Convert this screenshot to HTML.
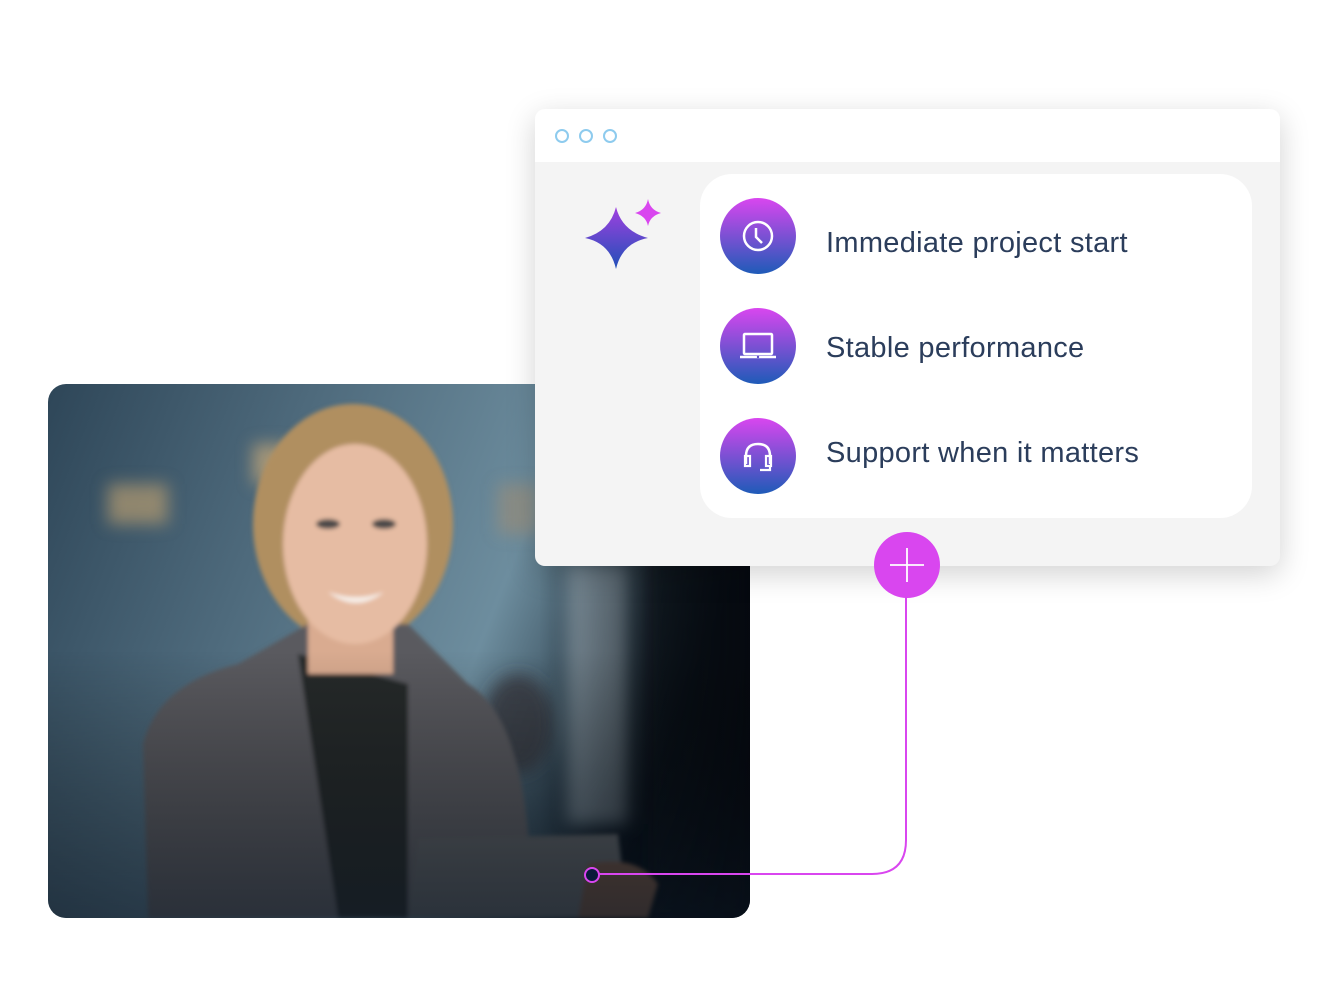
<!DOCTYPE html>
<html><head><meta charset="utf-8"><style>
html,body{margin:0;padding:0;background:#fff;}
body{width:1344px;height:1008px;position:relative;overflow:hidden;font-family:"Liberation Sans",sans-serif;}
.abs{position:absolute;}
.win{left:535px;top:109px;width:745px;height:457px;background:#f4f4f4;border-radius:10px;box-shadow:0 8px 30px rgba(0,0,0,0.18);overflow:hidden;}
.hdr{position:absolute;left:0;top:0;width:100%;height:53px;background:#fff;}
.dot{position:absolute;top:20px;width:10px;height:10px;border:2px solid #8ecbee;border-radius:50%;}
.card{left:700px;top:174px;width:552px;height:344px;background:#fff;border-radius:32px;}
.ic{width:76px;height:76px;border-radius:50%;background:linear-gradient(180deg,#d946ef,#1e5bb8);left:720px;}
.lbl{left:826px;font-size:29px;color:#2b3d5b;letter-spacing:0.3px;}
</style></head><body>
<svg class="abs" style="left:48px;top:384px" width="702" height="534" viewBox="0 0 702 534">
<defs>
<clipPath id="c"><rect width="702" height="534" rx="18"/></clipPath>
<linearGradient id="bg" x1="0" y1="0" x2="1" y2="0.3"><stop offset="0" stop-color="#2e4658"/><stop offset="0.35" stop-color="#4e6a7c"/><stop offset="0.7" stop-color="#6d8d9e"/><stop offset="1" stop-color="#0a1520"/></linearGradient>
<linearGradient id="bot" x1="0" y1="0" x2="0" y2="1"><stop offset="0.5" stop-color="#000" stop-opacity="0"/><stop offset="1" stop-color="#0a1420" stop-opacity="0.6"/></linearGradient>
<filter id="b8"><feGaussianBlur stdDeviation="8"/></filter>
<filter id="b2"><feGaussianBlur stdDeviation="2"/></filter>
<linearGradient id="rt" x1="0" y1="0" x2="1" y2="0"><stop offset="0.7" stop-color="#000" stop-opacity="0"/><stop offset="1" stop-color="#05080e" stop-opacity="0.9"/></linearGradient>
</defs>
<g clip-path="url(#c)">
<rect width="702" height="534" fill="url(#bg)"/>
<g filter="url(#b8)">
<rect x="60" y="100" width="60" height="40" fill="#b49a70" opacity="0.7"/>
<rect x="205" y="60" width="40" height="40" fill="#c8a878" opacity="0.7"/>
<rect x="450" y="100" width="40" height="50" fill="#a89070" opacity="0.5"/>
<rect x="520" y="180" width="60" height="260" fill="#b8c8d4" opacity="0.55"/>
<ellipse cx="470" cy="340" rx="35" ry="50" fill="#3a3a40" opacity="0.8"/>
<rect x="600" y="0" width="102" height="534" fill="#0e1a26" opacity="0.6"/>
</g>
<rect width="702" height="534" fill="url(#rt)"/>
<g filter="url(#b2)">
<ellipse cx="305" cy="140" rx="100" ry="120" fill="#b08f60"/>
<path d="M100 534 L95 360 Q110 300 190 280 L260 240 L360 240 L420 300 Q470 330 480 450 L490 534 Z" fill="#5a5a5e"/>
<path d="M250 270 L290 534 L360 534 L360 300 Z" fill="#26292c"/>
<rect x="260" y="180" width="85" height="110" fill="#d9ab90"/>
<ellipse cx="307" cy="160" rx="72" ry="100" fill="#e6bca3"/>
<ellipse cx="280" cy="140" rx="12" ry="5" fill="#4c4a48"/>
<ellipse cx="336" cy="140" rx="12" ry="5" fill="#4c4a48"/>
<path d="M280 208 Q308 230 336 208 Q308 218 280 208Z" fill="#f6eee8"/>
<path d="M370 455 L570 450 L580 534 L360 534 Z" fill="#5c5e62"/>
<path d="M540 480 Q590 470 610 500 L600 534 L530 534 Z" fill="#6b5040"/>
</g>
<rect width="702" height="534" fill="url(#bot)"/>
</g>
</svg>
<div class="abs win"><div class="hdr"><div class="dot" style="left:20px"></div><div class="dot" style="left:44px"></div><div class="dot" style="left:68px"></div></div></div>
<svg class="abs" style="left:580px;top:195px" width="90" height="80" viewBox="0 0 90 80">
<defs><linearGradient id="sg" x1="0" y1="0" x2="0" y2="1"><stop offset="0" stop-color="#a040e0"/><stop offset="1" stop-color="#2050b8"/></linearGradient></defs>
<path d="M36 12 Q42 36 68 43 Q42 48 36 74 Q30 48 5 43 Q30 36 36 12Z" fill="url(#sg)"/>
<path d="M68 4 Q70 15 81 18 Q70 21 68 31 Q66 21 55 18 Q66 15 68 4Z" fill="#d946ef"/>
</svg>
<div class="abs card"></div>
<div class="abs ic" style="top:198px"><svg width="76" height="76"><circle cx="38" cy="38" r="14" fill="none" stroke="#fff" stroke-width="2.5"/><path d="M36 30 V39 L42 45" fill="none" stroke="#fff" stroke-width="2.5"/></svg></div>
<div class="abs ic" style="top:308px"><svg width="76" height="76"><rect x="24" y="26" width="28" height="20" fill="none" stroke="#fff" stroke-width="2.5" rx="1"/><path d="M20 49 H56" stroke="#fff" stroke-width="2.5"/><circle cx="38" cy="49" r="1.2" fill="#6050c8"/></svg></div>
<div class="abs ic" style="top:418px"><svg width="76" height="76"><path d="M26 46 V38 Q26 26 38 26 Q50 26 50 38 V46" fill="none" stroke="#fff" stroke-width="2.5"/><rect x="25" y="38" width="5" height="10" fill="none" stroke="#fff" stroke-width="2.2"/><rect x="46" y="38" width="5" height="10" fill="none" stroke="#fff" stroke-width="2.2"/><path d="M50 48 V52 H40" fill="none" stroke="#fff" stroke-width="2.2"/></svg></div>
<div class="abs lbl" style="top:227px">Immediate project start</div>
<div class="abs lbl" style="top:332px">Stable performance</div>
<div class="abs lbl" style="top:437px">Support when it matters</div>
<svg class="abs" style="left:0;top:0" width="1344" height="1008">
<path d="M906 580 V840 Q906 874 872 874 H599" fill="none" stroke="#d946ef" stroke-width="2"/>
<circle cx="592" cy="875" r="7" fill="#0a1a3a" stroke="#d946ef" stroke-width="2"/>
<circle cx="907" cy="565" r="33" fill="#d946ef"/>
<path d="M890 565 H924 M907 548 V582" stroke="#fff" stroke-width="1.8"/>
</svg>
</body></html>
